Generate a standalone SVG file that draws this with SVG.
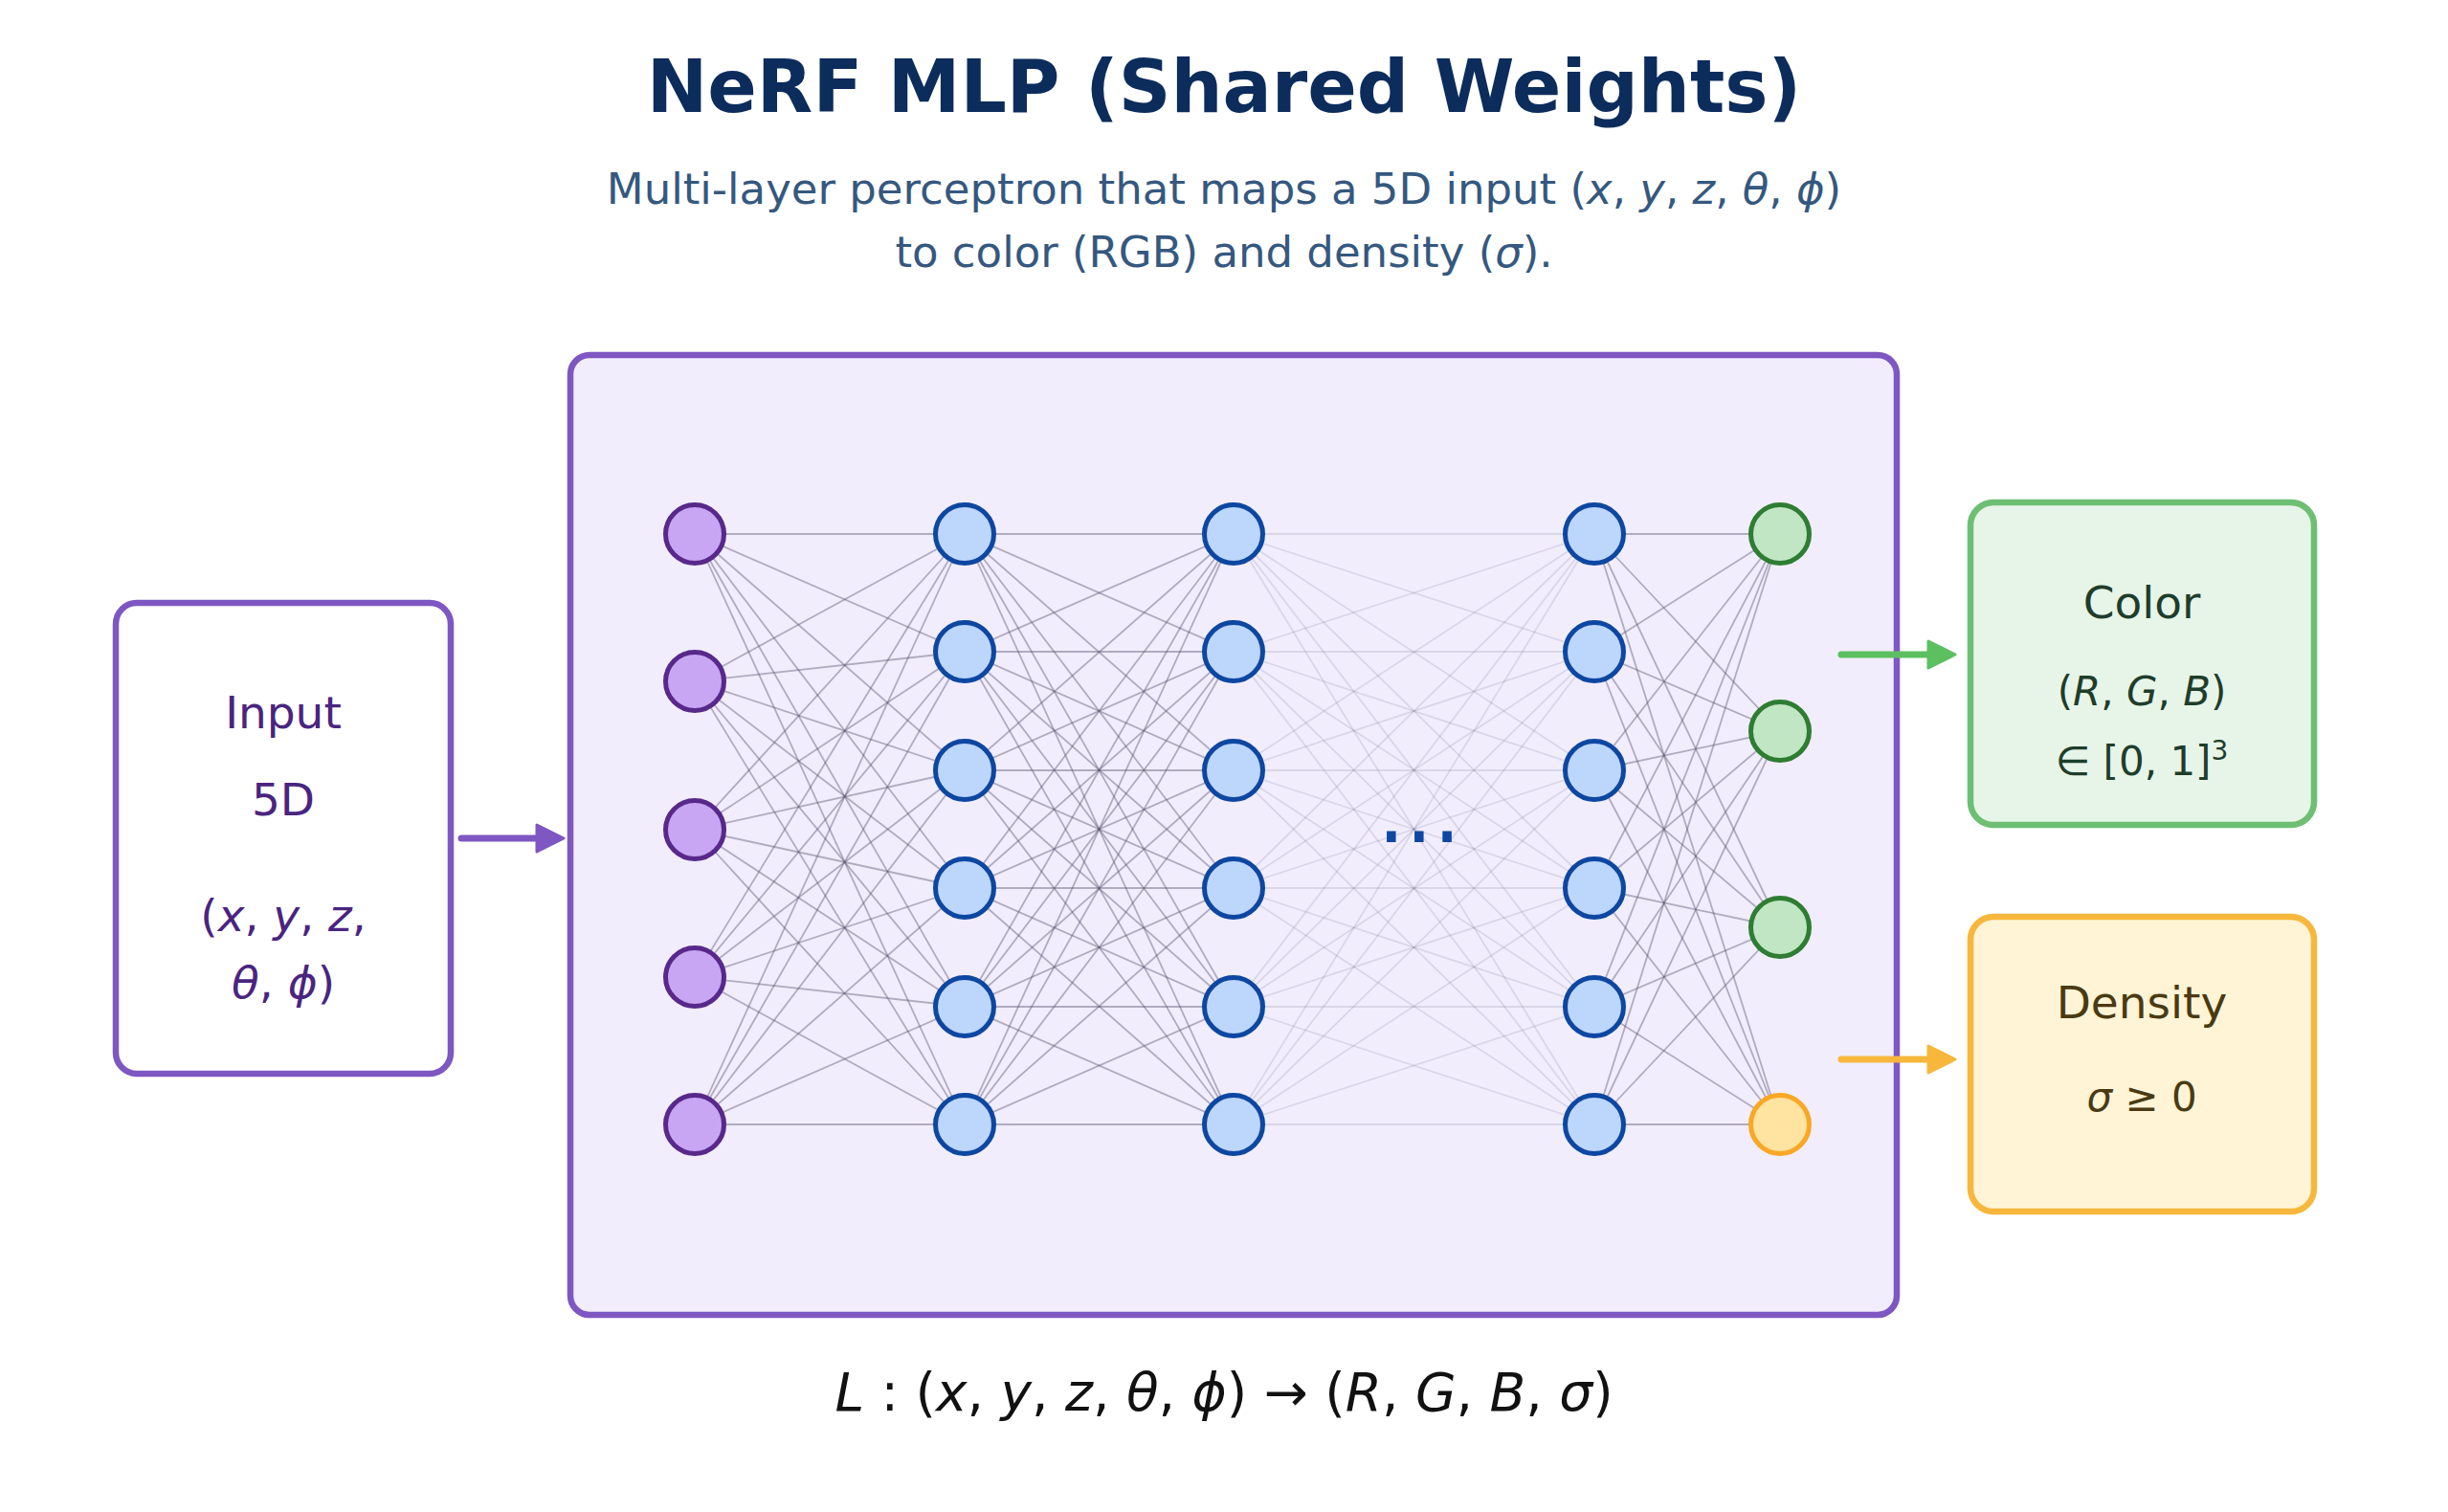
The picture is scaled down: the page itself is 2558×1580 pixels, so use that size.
<svg xmlns="http://www.w3.org/2000/svg" width="2558" height="1580" viewBox="0 0 2558 1580">
<style>
text{font-family:"DejaVu Sans","Liberation Sans",sans-serif}
.i{font-style:italic}
.title{font-size:76px;font-weight:bold;fill:#0c2c5c}
.sub{font-size:45px;fill:#35587f}
.conn{fill:none;stroke:#55526c;stroke-opacity:.42;stroke-width:1.8}
.faint{stroke-opacity:.15}
.n-in{fill:#c8a6f4;stroke:#58288a;stroke-width:5}
.n-h{fill:#bdd6fc;stroke:#0d47a1;stroke-width:5}
.n-rgb{fill:#c1e6c4;stroke:#2e7d32;stroke-width:5}
.n-sig{fill:#ffe3a1;stroke:#f9a825;stroke-width:5}
.arrow{fill:none;stroke-width:7;stroke-linecap:round}
</style>
<defs>
<marker id="ah-purple" viewBox="0 0 32 32" markerWidth="32" markerHeight="32" refX="2" refY="16" markerUnits="userSpaceOnUse" orient="auto"><path d="M2 2L30 16L2 30Z" fill="#7e57c2" stroke="#7e57c2" stroke-width="3" stroke-linejoin="round"/></marker>
<marker id="ah-green" viewBox="0 0 32 32" markerWidth="32" markerHeight="32" refX="2" refY="16" markerUnits="userSpaceOnUse" orient="auto"><path d="M2 2L30 16L2 30Z" fill="#5cbf60" stroke="#5cbf60" stroke-width="3" stroke-linejoin="round"/></marker>
<marker id="ah-orange" viewBox="0 0 32 32" markerWidth="32" markerHeight="32" refX="2" refY="16" markerUnits="userSpaceOnUse" orient="auto"><path d="M2 2L30 16L2 30Z" fill="#f6b73c" stroke="#f6b73c" stroke-width="3" stroke-linejoin="round"/></marker>
</defs>
<rect width="2558" height="1580" fill="#ffffff"/>

<g id="title">
<text class="title" x="1279" y="117" text-anchor="middle">NeRF MLP (Shared Weights)</text>
<text class="sub" x="1279" y="213" text-anchor="middle">Multi-layer perceptron that maps a 5D input (<tspan class="i">x</tspan>, <tspan class="i">y</tspan>, <tspan class="i">z</tspan>, <tspan class="i">θ</tspan>, <tspan class="i">ϕ</tspan>)</text>
<text class="sub" x="1279" y="279" text-anchor="middle">to color (RGB) and density (<tspan class="i">σ</tspan>).</text>
</g>

<g id="input-box">
<rect x="121" y="630" width="350" height="492" rx="22" fill="#ffffff" stroke="#7e57c2" stroke-width="6.5"/>
<text x="296" y="761" text-anchor="middle" font-size="47" fill="#4a2480">Input</text>
<text x="296" y="852" text-anchor="middle" font-size="47" fill="#4a2480">5D</text>
<text x="296" y="973" text-anchor="middle" font-size="47" fill="#4a2480">(<tspan class="i">x</tspan>, <tspan class="i">y</tspan>, <tspan class="i">z</tspan>,</text>
<text x="296" y="1043" text-anchor="middle" font-size="47" fill="#4a2480"><tspan class="i">θ</tspan>, <tspan class="i">ϕ</tspan>)</text>
</g>

<g id="mlp-box">
<rect x="596" y="371" width="1386" height="1003" rx="20" fill="#f1edfd" stroke="#7e57c2" stroke-width="6.5"/>
</g>

<g id="connectors">
<g id="in-h1">
<path class="conn" d="M726 558L1008 558M726 558L1008 681M726 558L1008 805M726 558L1008 928M726 558L1008 1052M726 558L1008 1175"/>
<path class="conn" d="M726 712L1008 558M726 712L1008 681M726 712L1008 805M726 712L1008 928M726 712L1008 1052M726 712L1008 1175"/>
<path class="conn" d="M726 867L1008 558M726 867L1008 681M726 867L1008 805M726 867L1008 928M726 867L1008 1052M726 867L1008 1175"/>
<path class="conn" d="M726 1021L1008 558M726 1021L1008 681M726 1021L1008 805M726 1021L1008 928M726 1021L1008 1052M726 1021L1008 1175"/>
<path class="conn" d="M726 1175L1008 558M726 1175L1008 681M726 1175L1008 805M726 1175L1008 928M726 1175L1008 1052M726 1175L1008 1175"/>
</g>
<g id="h1-h2">
<path class="conn" d="M1008 558L1289 558M1008 558L1289 681M1008 558L1289 805M1008 558L1289 928M1008 558L1289 1052M1008 558L1289 1175"/>
<path class="conn" d="M1008 681L1289 558M1008 681L1289 681M1008 681L1289 805M1008 681L1289 928M1008 681L1289 1052M1008 681L1289 1175"/>
<path class="conn" d="M1008 805L1289 558M1008 805L1289 681M1008 805L1289 805M1008 805L1289 928M1008 805L1289 1052M1008 805L1289 1175"/>
<path class="conn" d="M1008 928L1289 558M1008 928L1289 681M1008 928L1289 805M1008 928L1289 928M1008 928L1289 1052M1008 928L1289 1175"/>
<path class="conn" d="M1008 1052L1289 558M1008 1052L1289 681M1008 1052L1289 805M1008 1052L1289 928M1008 1052L1289 1052M1008 1052L1289 1175"/>
<path class="conn" d="M1008 1175L1289 558M1008 1175L1289 681M1008 1175L1289 805M1008 1175L1289 928M1008 1175L1289 1052M1008 1175L1289 1175"/>
</g>
<g id="h2-h3">
<path class="conn faint" d="M1289 558L1666 558M1289 558L1666 681M1289 558L1666 805M1289 558L1666 928M1289 558L1666 1052M1289 558L1666 1175"/>
<path class="conn faint" d="M1289 681L1666 558M1289 681L1666 681M1289 681L1666 805M1289 681L1666 928M1289 681L1666 1052M1289 681L1666 1175"/>
<path class="conn faint" d="M1289 805L1666 558M1289 805L1666 681M1289 805L1666 805M1289 805L1666 928M1289 805L1666 1052M1289 805L1666 1175"/>
<path class="conn faint" d="M1289 928L1666 558M1289 928L1666 681M1289 928L1666 805M1289 928L1666 928M1289 928L1666 1052M1289 928L1666 1175"/>
<path class="conn faint" d="M1289 1052L1666 558M1289 1052L1666 681M1289 1052L1666 805M1289 1052L1666 928M1289 1052L1666 1052M1289 1052L1666 1175"/>
<path class="conn faint" d="M1289 1175L1666 558M1289 1175L1666 681M1289 1175L1666 805M1289 1175L1666 928M1289 1175L1666 1052M1289 1175L1666 1175"/>
</g>
<g id="h3-out">
<path class="conn" d="M1666 558L1860 558M1666 558L1860 764M1666 558L1860 969M1666 558L1860 1175"/>
<path class="conn" d="M1666 681L1860 558M1666 681L1860 764M1666 681L1860 969M1666 681L1860 1175"/>
<path class="conn" d="M1666 805L1860 558M1666 805L1860 764M1666 805L1860 969M1666 805L1860 1175"/>
<path class="conn" d="M1666 928L1860 558M1666 928L1860 764M1666 928L1860 969M1666 928L1860 1175"/>
<path class="conn" d="M1666 1052L1860 558M1666 1052L1860 764M1666 1052L1860 969M1666 1052L1860 1175"/>
<path class="conn" d="M1666 1175L1860 558M1666 1175L1860 764M1666 1175L1860 969M1666 1175L1860 1175"/>
</g>
<line class="arrow" x1="482" y1="876" x2="561" y2="876" stroke="#7e57c2" marker-end="url(#ah-purple)"/>
<line class="arrow" x1="1924" y1="684" x2="2015" y2="684" stroke="#5cbf60" marker-end="url(#ah-green)"/>
<line class="arrow" x1="1924" y1="1107" x2="2015" y2="1107" stroke="#f6b73c" marker-end="url(#ah-orange)"/>
</g>

<g id="layer-input">
<g id="in-1"><circle class="n-in" cx="726" cy="558" r="30.5"/></g>
<g id="in-2"><circle class="n-in" cx="726" cy="712" r="30.5"/></g>
<g id="in-3"><circle class="n-in" cx="726" cy="867" r="30.5"/></g>
<g id="in-4"><circle class="n-in" cx="726" cy="1021" r="30.5"/></g>
<g id="in-5"><circle class="n-in" cx="726" cy="1175" r="30.5"/></g>
</g>
<g id="layer-h1">
<g id="h1-1"><circle class="n-h" cx="1008" cy="558" r="30.5"/></g>
<g id="h1-2"><circle class="n-h" cx="1008" cy="681" r="30.5"/></g>
<g id="h1-3"><circle class="n-h" cx="1008" cy="805" r="30.5"/></g>
<g id="h1-4"><circle class="n-h" cx="1008" cy="928" r="30.5"/></g>
<g id="h1-5"><circle class="n-h" cx="1008" cy="1052" r="30.5"/></g>
<g id="h1-6"><circle class="n-h" cx="1008" cy="1175" r="30.5"/></g>
</g>
<g id="layer-h2">
<g id="h2-1"><circle class="n-h" cx="1289" cy="558" r="30.5"/></g>
<g id="h2-2"><circle class="n-h" cx="1289" cy="681" r="30.5"/></g>
<g id="h2-3"><circle class="n-h" cx="1289" cy="805" r="30.5"/></g>
<g id="h2-4"><circle class="n-h" cx="1289" cy="928" r="30.5"/></g>
<g id="h2-5"><circle class="n-h" cx="1289" cy="1052" r="30.5"/></g>
<g id="h2-6"><circle class="n-h" cx="1289" cy="1175" r="30.5"/></g>
</g>
<g id="ellipsis"><text x="1483" y="880" text-anchor="middle" font-size="92" fill="#0d47a1">...</text></g>
<g id="layer-h3">
<g id="h3-1"><circle class="n-h" cx="1666" cy="558" r="30.5"/></g>
<g id="h3-2"><circle class="n-h" cx="1666" cy="681" r="30.5"/></g>
<g id="h3-3"><circle class="n-h" cx="1666" cy="805" r="30.5"/></g>
<g id="h3-4"><circle class="n-h" cx="1666" cy="928" r="30.5"/></g>
<g id="h3-5"><circle class="n-h" cx="1666" cy="1052" r="30.5"/></g>
<g id="h3-6"><circle class="n-h" cx="1666" cy="1175" r="30.5"/></g>
</g>
<g id="layer-out">
<g id="out-r"><circle class="n-rgb" cx="1860" cy="558" r="30.5"/></g>
<g id="out-g"><circle class="n-rgb" cx="1860" cy="764" r="30.5"/></g>
<g id="out-b"><circle class="n-rgb" cx="1860" cy="969" r="30.5"/></g>
<g id="out-sigma"><circle class="n-sig" cx="1860" cy="1175" r="30.5"/></g>
</g>

<g id="color-box">
<rect x="2059" y="525" width="359" height="337" rx="24" fill="#e7f5e8" stroke="#6dbf73" stroke-width="6.5"/>
<text x="2238" y="646" text-anchor="middle" font-size="47" fill="#1e3d2b">Color</text>
<text x="2238" y="737" text-anchor="middle" font-size="42" fill="#1e3d2b">(<tspan class="i">R</tspan>, <tspan class="i">G</tspan>, <tspan class="i">B</tspan>)</text>
<text x="2238" y="810" text-anchor="middle" font-size="42" fill="#1e3d2b">∈ [0, 1]<tspan font-size="28" dy="-16">3</tspan></text>
</g>

<g id="density-box">
<rect x="2059" y="958" width="359" height="308" rx="24" fill="#fff4d6" stroke="#f6b73c" stroke-width="6.5"/>
<text x="2238" y="1064" text-anchor="middle" font-size="47" fill="#4a3a12">Density</text>
<text x="2238" y="1161" text-anchor="middle" font-size="42" fill="#4a3a12"><tspan class="i">σ</tspan> ≥ 0</text>
</g>

<g id="formula">
<text x="1279" y="1474" text-anchor="middle" font-size="55" fill="#111111"><tspan class="i">L</tspan> : (<tspan class="i">x</tspan>, <tspan class="i">y</tspan>, <tspan class="i">z</tspan>, <tspan class="i">θ</tspan>, <tspan class="i">ϕ</tspan>) → (<tspan class="i">R</tspan>, <tspan class="i">G</tspan>, <tspan class="i">B</tspan>, <tspan class="i">σ</tspan>)</text>
</g>
</svg>
